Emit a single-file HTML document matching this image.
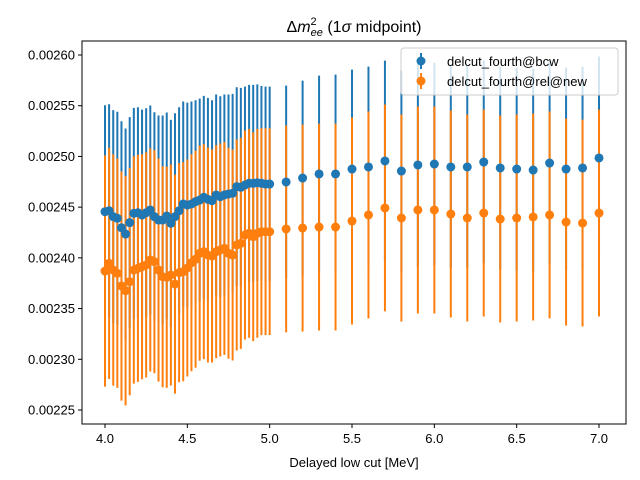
<!DOCTYPE html>
<html><head><meta charset="utf-8"><style>
body{margin:0;background:#fff}
svg{display:block;font-family:"Liberation Sans","DejaVu Sans",sans-serif}
</style></head><body>
<svg id="chart" width="640" height="480">
<rect width="640" height="480" fill="#fff"/>
<g id="bars"></g>
<g id="marks"></g>
<rect x="82" y="41" width="544" height="383" fill="none" stroke="#000" stroke-width="1"/>
<g id="ticks"></g>
<text x="354" y="32" text-anchor="middle" font-size="16">Δ<tspan font-style="italic">m</tspan><tspan font-size="11" dy="-7">2</tspan><tspan font-size="11" font-style="italic" dy="11" dx="-6">ee</tspan><tspan dy="-4"> (1</tspan><tspan font-style="italic">σ</tspan> midpoint)</text>
<text x="354" y="467" text-anchor="middle" font-size="13">Delayed low cut [MeV]</text>
<g>
<rect x="401" y="48" width="217" height="47" rx="3" fill="#fff" fill-opacity="0.8" stroke="#ccc"/>
<g>
<line x1="421" y1="53" x2="421" y2="69" stroke="#1f77b4" stroke-width="2"/><circle cx="421" cy="61" r="4.5" fill="#1f77b4"/>
<text x="447" y="66" font-size="13">delcut_fourth@bcw</text></g>
<g>
<line x1="421" y1="73" x2="421" y2="89" stroke="#ff7f0e" stroke-width="2"/><circle cx="421" cy="81" r="4.5" fill="#ff7f0e"/>
<text x="447" y="86" font-size="13">delcut_fourth@rel@new</text></g>
</g>
</svg>
<script>
// values in units of 1e-5
const blueVals=[244.55,244.65,244.06,243.90,242.97,242.35,243.47,244.39,244.45,244.22,244.45,244.72,244.06,243.73,243.73,244.13,243.41,244.06,244.65,245.31,245.21,
245.31,245.54,245.70,245.97,245.77,245.64,246.20,246.03,246.20,246.30,246.37,247.02,246.96,247.18,247.35,247.35,247.41,247.35,247.28,247.28,
247.48,247.87,248.27,248.27,248.76,248.96,249.55,248.56,249.16,249.25,248.96,248.96,249.45,248.86,248.76,248.66,249.35,248.76,248.86,249.85];
const orangeVals=[238.70,239.46,238.80,238.48,237.23,236.76,237.65,238.80,238.97,239.13,239.30,239.79,239.62,238.80,238.14,238.08,238.31,237.42,238.54,238.64,239.00,
239.52,239.86,240.45,240.61,240.28,240.18,240.61,240.78,240.94,240.45,240.28,241.27,241.43,242.25,242.42,242.09,242.42,242.58,242.58,242.58,
242.85,242.94,243.04,243.04,243.63,244.23,244.92,243.93,244.72,244.72,244.32,243.93,244.42,243.83,243.93,244.03,244.23,243.53,243.43,244.42];
const blueErr=[10.5,10.5,10.5,10.5,10.5,10.4,10.4,10.4,10.4,10.4,10.3,10.3,10.3,10.3,10.3,10.2,10.2,10.2,10.2,10.1,10.1,
10.1,10.0,10.0,10.0,10.0,9.9,9.9,9.9,9.9,9.8,9.8,9.8,9.8,9.7,9.7,9.7,9.7,9.6,9.6,9.6,
9.5,9.6,9.7,9.8,9.8,9.9,9.9,9.9,10.0,10.0,10.0,10.0,10.0,10.0,10.0,10.0,10.0,10.0,10.0,10.0];
const orangeErr=[11.4,11.4,11.4,11.3,11.3,11.3,11.2,11.2,11.2,11.1,11.1,11.0,11.0,11.0,10.9,10.9,10.9,10.8,10.8,10.8,10.7,
10.7,10.7,10.6,10.6,10.6,10.5,10.5,10.5,10.5,10.4,10.4,10.4,10.4,10.3,10.3,10.3,10.3,10.2,10.2,10.2,
10.2,10.2,10.2,10.2,10.2,10.2,10.2,10.2,10.2,10.2,10.2,10.2,10.2,10.2,10.2,10.2,10.2,10.2,10.2,10.2];
const xTicks=[4.0,4.5,5.0,5.5,6.0,6.5,7.0];
const yTicks=[0.00225,0.00230,0.00235,0.00240,0.00245,0.00250,0.00255,0.00260];
const xCats=[];
for(let i=0;i<=40;i++)xCats.push(4+i*0.025);
for(let i=1;i<=20;i++)xCats.push(5+i*0.1);

const NS="http://www.w3.org/2000/svg";
const X=v=>105+(v-4)*164.67;
const Y=v=>410-(v-0.00225)/0.00005*50.714;
const bars=document.getElementById('bars'),marks=document.getElementById('marks'),ticks=document.getElementById('ticks');
function mk(tag,attrs,parent){const e=document.createElementNS(NS,tag);for(const k in attrs)e.setAttribute(k,attrs[k]);parent.appendChild(e);return e;}
function errorbars(vals,errs,color,name){
  const g=mk('g',{},bars);
  
  
  vals.forEach((v,i)=>{
    const val=v*1e-5,e=errs[i]*1e-5,x=X(xCats[i]);
    const l=mk('line',{x1:x,x2:x,y1:Y(val-e),y2:Y(val+e),stroke:color,'stroke-width':2},g);
    
    
  });
}
function points(vals,color,name){
  const g=mk('g',{},marks);
  
  
  vals.forEach((v,i)=>{
    const c=mk('circle',{cx:X(xCats[i]),cy:Y(v*1e-5),r:4.5,fill:color},g);
    
    
  });
}
errorbars(blueVals,blueErr,'#1f77b4','bcw');
errorbars(orangeVals,orangeErr,'#ff7f0e','rel-new');
points(blueVals,'#1f77b4','bcw');
points(orangeVals,'#ff7f0e','rel-new');
xTicks.forEach(t=>{
  const x=X(t);
  const l=mk('line',{x1:x,x2:x,y1:424,y2:428,stroke:'#000'},ticks);
  
  
  const tx=mk('text',{x:x,y:443,'text-anchor':'middle','font-size':13},ticks);
  tx.textContent=t.toFixed(1);
  
  
});
yTicks.forEach(t=>{
  const y=Y(t);
  const l=mk('line',{x1:78,x2:82,y1:y,y2:y,stroke:'#000'},ticks);
  
  
  const tx=mk('text',{x:75,y:y+4.5,'text-anchor':'end','font-size':13},ticks);
  tx.textContent=t.toFixed(5);
  
  
});
</script>
</body></html>
